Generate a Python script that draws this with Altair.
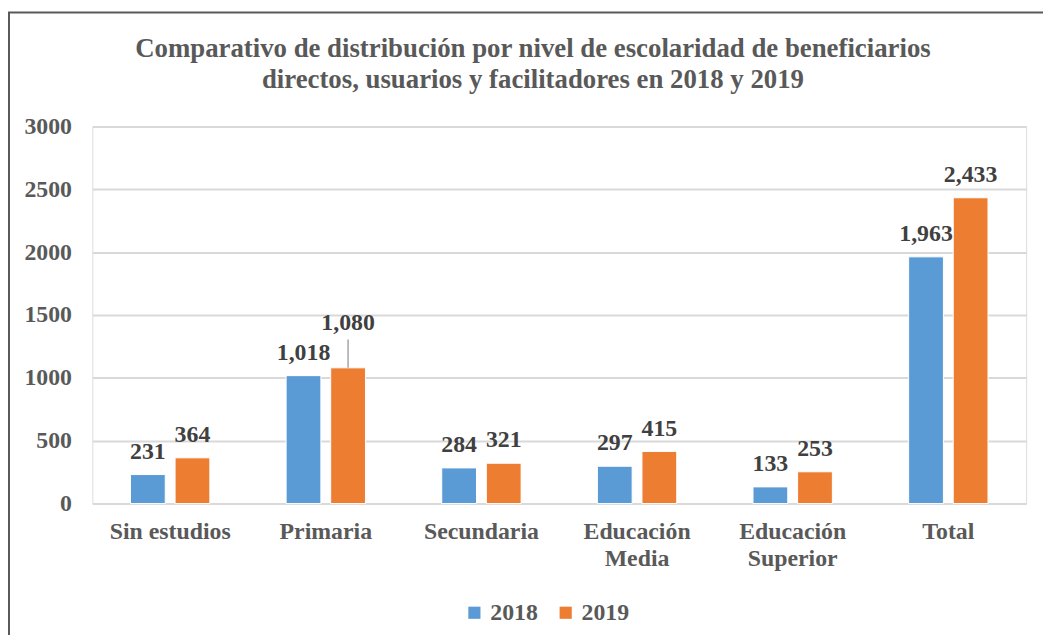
import altair as alt
import pandas as pd

categories = ["Sin estudios", "Primaria", "Secundaria", "Educación Media", "Educación Superior", "Total"]
values_2018 = [231, 1018, 284, 297, 133, 1963]
values_2019 = [364, 1080, 321, 415, 253, 2433]
years = ["2018", "2019"]
y_ticks = [0, 500, 1000, 1500, 2000, 2500, 3000]
title_lines = ["Comparativo de distribución por nivel de escolaridad de beneficiarios",
               "directos, usuarios y facilitadores en 2018 y 2019"]
colors = ["#5B9BD5", "#ED7D31"]

rows = []
for c, a, b in zip(categories, values_2018, values_2019):
    rows.append({"cat": c, "year": years[0], "value": a, "label": f"{a:,}"})
    rows.append({"cat": c, "year": years[1], "value": b, "label": f"{b:,}"})
df = pd.DataFrame(rows)

FONT = "Liberation Serif"
GRAY = "#595959"
FS = 24

x = alt.X("cat:N", sort=categories, title=None,
          scale=alt.Scale(paddingInner=0.49, paddingOuter=0.245),
          axis=alt.Axis(labelFont=FONT, labelFontSize=FS, labelFontWeight="bold",
                        labelColor=GRAY, labelAngle=0, ticks=False, domain=False,
                        labelPadding=16, labelLineHeight=27, labelLimit=300,
                        labelExpr="indexof(datum.label, 'Educación') == 0 ? split(datum.label, ' ') : datum.label"))
xo = alt.XOffset("year:N", sort=years, scale=alt.Scale(paddingInner=0.22, paddingOuter=0))
y = alt.Y("value:Q", title=None,
          scale=alt.Scale(domain=[0, 3000], nice=False),
          axis=alt.Axis(values=y_ticks, format="d", labelFont=FONT, labelFontSize=FS,
                        labelFontWeight="bold", labelColor=GRAY, ticks=False, domain=False,
                        labelPadding=21, gridColor="#D9D9D9", gridWidth=2))
color = alt.Color("year:N", sort=years, scale=alt.Scale(domain=years, range=colors),
                  legend=alt.Legend(title=None, orient="none", direction="horizontal",
                                    legendX=373, legendY=478, symbolType="square", symbolSize=150,
                                    symbolStrokeWidth=0, labelFont=FONT, labelFontSize=FS,
                                    labelFontWeight="bold", labelColor=GRAY, columnPadding=16,
                                    padding=0, labelOffset=4))

base = alt.Chart(df)
bars = base.mark_bar(stroke="white", strokeWidth=1).encode(x=x, xOffset=xo, y=y, color=color)

text_norm = base.mark_text(font=FONT, fontSize=FS, fontWeight="bold", color="#404040",
                           baseline="alphabetic", dy=-16).encode(
    x=x, xOffset=xo, y=y, text="label:N").transform_filter("datum.label != '1,080'")
text_raised = base.mark_text(font=FONT, fontSize=FS, fontWeight="bold", color="#404040",
                             baseline="alphabetic", dy=-38).encode(
    x=x, xOffset=xo, y=y, text="label:N").transform_filter("datum.label == '1,080'")
leader = base.mark_rule(color="#A6A6A6", strokeWidth=1.5).encode(
    x=x, xOffset=xo, y=y, y2="top:Q").transform_filter(
    "datum.label == '1,080'").transform_calculate(top="datum.value + 225")

title = alt.Chart(alt.Data(values=[{}])).mark_text(
    font=FONT, fontSize=27, fontWeight="bold", color=GRAY, align="center",
    baseline="alphabetic", lineHeight=31).encode(
    x=alt.value(444), y=alt.value(-70), text=alt.value(title_lines))

border = alt.Chart(alt.Data(values=[{}])).mark_rect(
    fill=None, stroke="#595959", strokeWidth=2).encode(
    x=alt.value(-84), x2=alt.value(980), y=alt.value(-115), y2=alt.value(560))

chart = alt.layer(bars, leader, text_norm, text_raised, title, border).properties(
    width=941, height=380,
    autosize=alt.AutoSizeParams(type="none"),
    padding={"left": 85, "top": 117, "right": 17, "bottom": 130},
).configure_view(stroke=None).configure(background="white")

chart.save("out.html", embed_options={"renderer": "svg", "actions": False})
